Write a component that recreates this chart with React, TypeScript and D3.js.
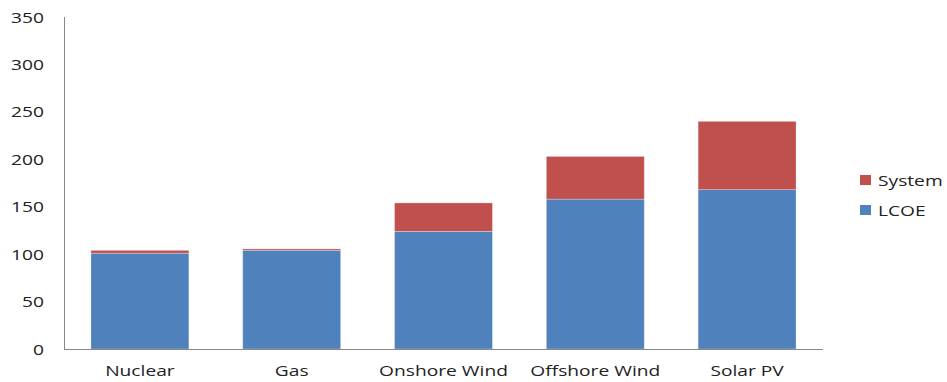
import * as React from "react";
import * as d3 from "d3";

const categories = ["Nuclear", "Gas", "Onshore Wind", "Offshore Wind", "Solar PV"];
const lcoe = [101, 104, 124, 158, 168];
const system = [3, 1.5, 30, 45, 72];
const yTicks = [0, 50, 100, 150, 200, 250, 300, 350];

const seriesNames = ["LCOE", "System"];
const seriesColors: Record<string, string> = { LCOE: "#4F81BD", System: "#C0504D" };

const W = 947;
const H = 382;
const FONT = "'Open Sans', 'DejaVu Sans', sans-serif";
// the original text is rendered wide, so stretch it horizontally
const SX = 1.28;

export default function App() {
  const ref = React.useRef<SVGSVGElement>(null);

  React.useEffect(() => {
    const svg = d3.select(ref.current);
    svg.selectAll("*").remove();

    const x0 = 64, x1 = 823, y0 = 349, y1 = 17;
    const x = d3.scaleBand().domain(categories).range([x0, x1]).paddingInner(0.355).paddingOuter(0.1775);
    const y = d3.scaleLinear().domain([0, 350]).range([y0, y1]);

    const rows = categories.map((c, i) => ({ cat: c, LCOE: lcoe[i], System: system[i] }));
    const stacked = d3.stack<any>().keys(seriesNames)(rows);

    const g = svg.append("g");
    stacked.forEach((s) => {
      g.selectAll(null)
        .data(s)
        .enter()
        .append("rect")
        .attr("x", (d: any) => x(d.data.cat)!)
        .attr("width", x.bandwidth())
        .attr("y", (d) => y(d[1]))
        .attr("height", (d) => y(d[0]) - y(d[1]))
        .attr("fill", seriesColors[s.key])
        .attr("stroke", "rgba(255,255,255,0.35)")
        .attr("stroke-width", 0.8);
    });

    // axes lines
    svg.append("line").attr("x1", x0 + 0.5).attr("x2", x0 + 0.5).attr("y1", y1).attr("y2", y0)
      .attr("stroke", "#888").attr("stroke-width", 1);
    svg.append("line").attr("x1", x0).attr("x2", x1).attr("y1", y0 + 0.5).attr("y2", y0 + 0.5)
      .attr("stroke", "#888").attr("stroke-width", 1);

    svg.append("g").selectAll("text").data(yTicks).enter().append("text")
      .attr("transform", (d) => `translate(44, ${y(d) + 5.5}) scale(${SX}, 1)`)
      .attr("text-anchor", "end")
      .attr("font-family", FONT).attr("font-size", 15).attr("fill", "#222")
      .text((d) => d);

    svg.append("g").selectAll("text").data(categories).enter().append("text")
      .attr("transform", (d) => `translate(${x(d)! + x.bandwidth() / 2}, 376) scale(${SX}, 1)`)
      .attr("text-anchor", "middle")
      .attr("font-family", FONT).attr("font-size", 15).attr("fill", "#222")
      .text((d) => d);

    // legend
    const legend = ["System", "LCOE"];
    const lg = svg.append("g").selectAll("g").data(legend).enter().append("g")
      .attr("transform", (d, i) => `translate(860, ${175 + i * 30})`);
    lg.append("rect").attr("width", 11).attr("height", 10).attr("fill", (d) => seriesColors[d]);
    lg.append("text").attr("transform", `translate(18, 11) scale(${SX}, 1)`)
      .attr("font-family", FONT).attr("font-size", 15).attr("fill", "#222")
      .text((d) => d);
  }, []);

  return <svg ref={ref} width={W} height={H} style={{ position: "absolute", left: 0, top: 0, background: "#fff" }} />;
}
